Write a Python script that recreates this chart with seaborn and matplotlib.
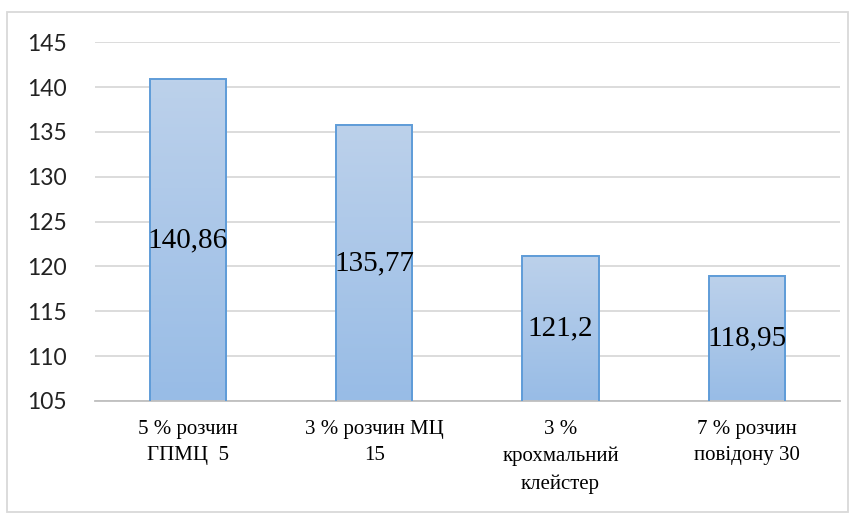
import numpy as np
import pandas as pd
import matplotlib.pyplot as plt
import matplotlib.patches as mpatches
from matplotlib.colors import LinearSegmentedColormap
import seaborn as sns

# ── Data ───────────────────────────────────────────────────────────────────────
categories = ["5 % розчин\nГПМЦ  5", "3 % розчин МЦ\n15", "3 %\nкрохмальний\nклейстер",
              "7 % розчин\nповідону 30"]
values = [140.86, 135.77, 121.2, 118.95]
value_labels = ["140,86", "135,77", "121,2", "118,95"]
y_ticks = [105, 110, 115, 120, 125, 130, 135, 140, 145]
Y_MIN, Y_MAX = 105, 145
SERIF = ["Liberation Serif", "DejaVu Serif"]

df = pd.DataFrame({"category": categories, "value": values})

sns.set_theme(style="white")
fig = plt.figure(figsize=(8.53, 5.15), dpi=100)
ax = fig.add_axes([0.111, 0.2214, 0.874, 0.6967])

sns.barplot(data=df, x="category", y="value", ax=ax, width=0.41,
            color="#a9c6e8", edgecolor="#5f9cd8", linewidth=1.4, zorder=3)

ax.set_ylim(Y_MIN, Y_MAX)
ax.set_xlim(-0.5, 3.5)
ax.set_yticks(y_ticks)
ax.yaxis.grid(True, color="#d9d9d9", linewidth=1.3, zorder=0)
ax.set_axisbelow(True)
ax.set_xlabel("")
ax.set_ylabel("")

# gradient fill inside each bar (only the visible part above the y floor)
grad = LinearSegmentedColormap.from_list("g", ["#98bce6", "#bcd1eb"])
for bar in ax.patches:
    x0, w = bar.get_x(), bar.get_width()
    top = bar.get_y() + bar.get_height()
    bar.set_facecolor("none")
    ax.imshow(np.linspace(0, 1, 100).reshape(-1, 1), cmap=grad, origin="lower",
              extent=[x0, x0 + w, Y_MIN, top], aspect="auto", zorder=2)
ax.set_xlim(-0.5, 3.5)
ax.set_ylim(Y_MIN, Y_MAX)

# value labels centred in the bars
for i, (v, lab) in enumerate(zip(values, value_labels)):
    ax.text(i, (Y_MIN + v) / 2, lab, ha="center", va="center", fontsize=21,
            family=SERIF, color="black", zorder=5)

for side in ["left", "right", "top"]:
    ax.spines[side].set_visible(False)
ax.spines["bottom"].set_color("#bfbfbf")
ax.spines["bottom"].set_linewidth(1.3)

ax.tick_params(axis="y", length=0, pad=20, labelsize=16.5, labelcolor="#222222",
               labelfontfamily="Lato")
ax.tick_params(axis="x", length=0, labelbottom=False)

# category labels under the bars, serif like the original
for i, cat in enumerate(categories):
    ax.text(i, -0.052, cat, transform=ax.get_xaxis_transform(), ha="center", va="top",
            fontsize=15, family=SERIF, linespacing=1.55, color="black")

# outer chart border
fig.patches.append(mpatches.Rectangle((7 / 853, 3 / 515), 841 / 853, 500 / 515,
                                      transform=fig.transFigure, fill=False,
                                      edgecolor="#d9d9d9", linewidth=1.3))

fig.savefig("out.png", dpi=100)
